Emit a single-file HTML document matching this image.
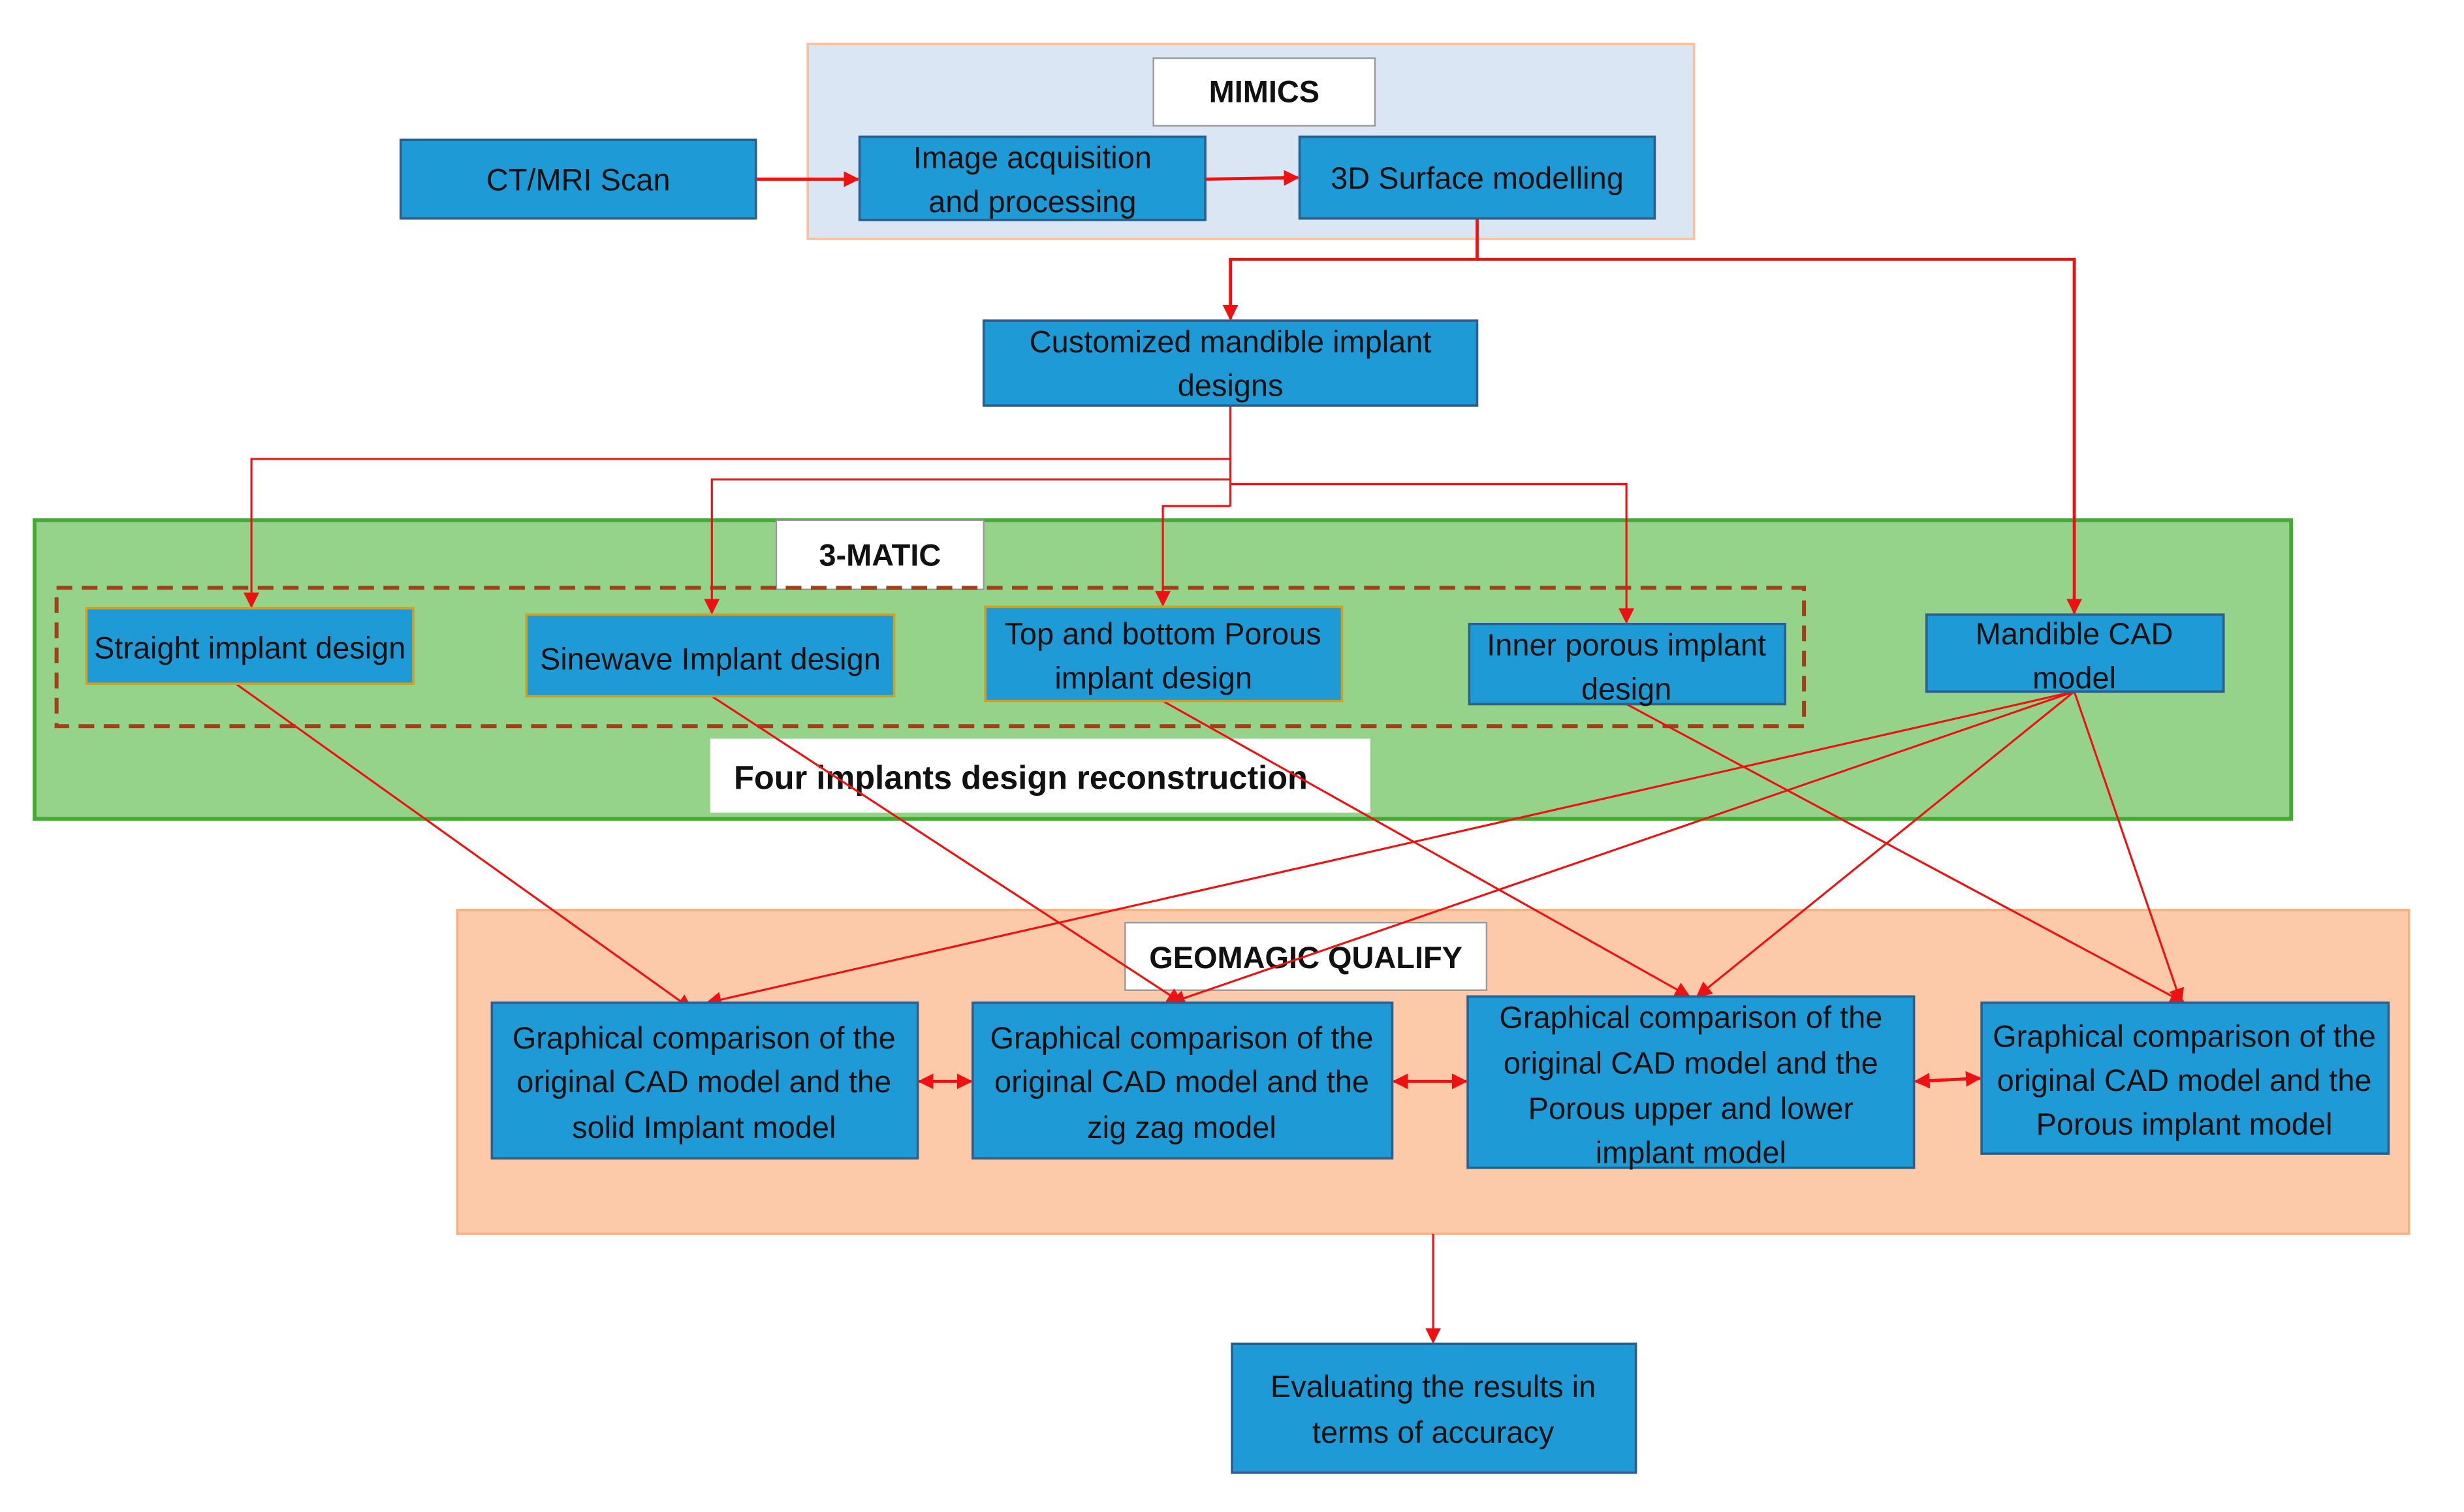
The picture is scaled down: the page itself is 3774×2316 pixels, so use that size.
<!DOCTYPE html>
<html><head><meta charset="utf-8"><style>
html,body{margin:0;padding:0;background:#fff;}
svg{display:block;}
text{font-family:"Liberation Sans",sans-serif;font-size:19.5px;fill:#111;}
.b{fill:#1e9bd7;stroke:#2d5f8c;stroke-width:1.5;}
.l{stroke:#ee1111;stroke-width:1.3;fill:none;}
.t{stroke:#ee1111;stroke-width:2;fill:none;}
.bold{font-weight:bold;}
</style></head><body>
<svg width="3774" height="2316" viewBox="0 0 1568 962" preserveAspectRatio="none" xmlns="http://www.w3.org/2000/svg">
<defs>
<marker id="a" markerWidth="10" markerHeight="10" refX="9" refY="5" orient="auto" markerUnits="userSpaceOnUse"><path d="M0,0 L10,5 L0,10 z" fill="#ee1111"/></marker>
<marker id="s" markerWidth="10" markerHeight="10" refX="1" refY="5" orient="auto" markerUnits="userSpaceOnUse"><path d="M10,0 L0,5 L10,10 z" fill="#ee1111"/></marker>
</defs>
<rect width="1568" height="962" fill="#fff"/>
<rect x="514" y="28" width="564" height="124" fill="#dae6f4" stroke="#f8c0a0" stroke-width="1.5"/>
<rect x="734" y="37" width="141" height="43" fill="#fff" stroke="#999" stroke-width="1"/>
<text x="804.5" y="65" text-anchor="middle" class="bold">MIMICS</text>
<rect x="22" y="331" width="1436" height="190" fill="#96d38a" stroke="#45aa35" stroke-width="2.5"/>
<rect x="494" y="331" width="132" height="44" fill="#fff" stroke="#999" stroke-width="1"/>
<text x="560" y="360" text-anchor="middle" class="bold">3-MATIC</text>
<rect x="36" y="374" width="1112" height="88" fill="none" stroke="#a0401a" stroke-width="2.5" stroke-dasharray="10,6"/>
<rect x="452" y="470" width="420" height="47" fill="#fff"/>
<text x="467" y="502" class="bold" style="font-size:21px">Four implants design reconstruction</text>
<rect x="291" y="579" width="1242" height="206" fill="#fccaa8" stroke="#f4b183" stroke-width="1.5"/>
<rect x="716" y="587" width="230" height="43" fill="#fff" stroke="#999" stroke-width="1"/>
<text x="831" y="616" text-anchor="middle" class="bold">GEOMAGIC QUALIFY</text>

<line class="t" x1="481" y1="114" x2="546" y2="114" marker-end="url(#a)"/>
<line class="t" x1="767" y1="114" x2="826" y2="113" marker-end="url(#a)"/>
<polyline class="t" points="940,139 940,165 783,165 783,203" marker-end="url(#a)"/>
<polyline class="t" points="940,165 1320,165 1320,390" marker-end="url(#a)"/>
<polyline class="l" points="783,258 783,322"/>
<polyline class="l" points="783,292 160,292 160,386" marker-end="url(#a)"/>
<polyline class="l" points="783,305 453,305 453,390" marker-end="url(#a)"/>
<polyline class="l" points="783,322 740,322 740,385" marker-end="url(#a)"/>
<polyline class="l" points="783,308 1035,308 1035,396" marker-end="url(#a)"/>
<line class="l" x1="150" y1="435" x2="440" y2="642" marker-end="url(#a)"/>
<line class="l" x1="453" y1="443" x2="752" y2="638" marker-end="url(#a)"/>
<line class="l" x1="740" y1="446" x2="1075" y2="634" marker-end="url(#a)"/>
<line class="l" x1="1035" y1="448" x2="1390" y2="638" marker-end="url(#a)"/>
<line class="l" x1="1320" y1="440" x2="450" y2="638" marker-end="url(#a)"/>
<line class="l" x1="1320" y1="440" x2="745" y2="638" marker-end="url(#a)"/>
<line class="l" x1="1320" y1="440" x2="1080" y2="634" marker-end="url(#a)"/>
<line class="l" x1="1320" y1="440" x2="1388" y2="638" marker-end="url(#a)"/>
<line class="t" x1="585" y1="688" x2="618" y2="688" marker-start="url(#s)" marker-end="url(#a)"/>
<line class="t" x1="887" y1="688" x2="933" y2="688" marker-start="url(#s)" marker-end="url(#a)"/>
<line class="t" x1="1219" y1="688" x2="1260" y2="686" marker-start="url(#s)" marker-end="url(#a)"/>
<line class="l" x1="912" y1="785" x2="912" y2="854" marker-end="url(#a)"/>

<rect class="b" x="255" y="89" width="226" height="50"/>
<text x="368" y="121" text-anchor="middle">CT/MRI Scan</text>
<rect class="b" x="547" y="87" width="220" height="53"/>
<text x="657" y="107" text-anchor="middle">Image acquisition</text>
<text x="657" y="135" text-anchor="middle">and processing</text>
<rect class="b" x="827" y="87" width="226" height="52"/>
<text x="940" y="120" text-anchor="middle">3D Surface modelling</text>
<rect class="b" x="626" y="204" width="314" height="54"/>
<text x="783" y="224" text-anchor="middle">Customized mandible implant</text>
<text x="783" y="252" text-anchor="middle">designs</text>

<rect class="b" x="55" y="387" width="208" height="48" style="stroke:#c9a227"/>
<text x="159" y="419" text-anchor="middle">Straight implant design</text>
<rect class="b" x="335" y="391" width="234" height="52" style="stroke:#c9a227"/>
<text x="452" y="426" text-anchor="middle">Sinewave Implant design</text>
<rect class="b" x="627" y="386" width="227" height="60" style="stroke:#c9a227"/>
<text x="740" y="410" text-anchor="middle">Top and bottom Porous</text>
<text x="734" y="438" text-anchor="middle">implant design</text>
<rect class="b" x="935" y="397" width="201" height="51"/>
<text x="1035" y="417" text-anchor="middle">Inner porous implant</text>
<text x="1035" y="445" text-anchor="middle">design</text>
<rect class="b" x="1226" y="391" width="189" height="49"/>
<text x="1320" y="410" text-anchor="middle">Mandible CAD</text>
<text x="1320" y="438" text-anchor="middle">model</text>

<rect class="b" x="313" y="638" width="271" height="99"/>
<text x="448" y="667" text-anchor="middle">Graphical comparison of the</text>
<text x="448" y="695" text-anchor="middle">original CAD model and the</text>
<text x="448" y="724" text-anchor="middle">solid Implant model</text>
<rect class="b" x="619" y="638" width="267" height="99"/>
<text x="752" y="667" text-anchor="middle">Graphical comparison of the</text>
<text x="752" y="695" text-anchor="middle">original CAD model and the</text>
<text x="752" y="724" text-anchor="middle">zig zag model</text>
<rect class="b" x="934" y="634" width="284" height="109"/>
<text x="1076" y="654" text-anchor="middle">Graphical comparison of the</text>
<text x="1076" y="683" text-anchor="middle">original CAD model and the</text>
<text x="1076" y="712" text-anchor="middle">Porous upper and lower</text>
<text x="1076" y="740" text-anchor="middle">implant  model</text>
<rect class="b" x="1261" y="638" width="259" height="96"/>
<text x="1390" y="666" text-anchor="middle">Graphical comparison of the</text>
<text x="1390" y="694" text-anchor="middle">original CAD model and the</text>
<text x="1390" y="722" text-anchor="middle">Porous implant model</text>

<rect class="b" x="784" y="855" width="257" height="82"/>
<text x="912" y="889" text-anchor="middle">Evaluating the results in</text>
<text x="912" y="918" text-anchor="middle">terms of accuracy</text>
</svg>
</body></html>
